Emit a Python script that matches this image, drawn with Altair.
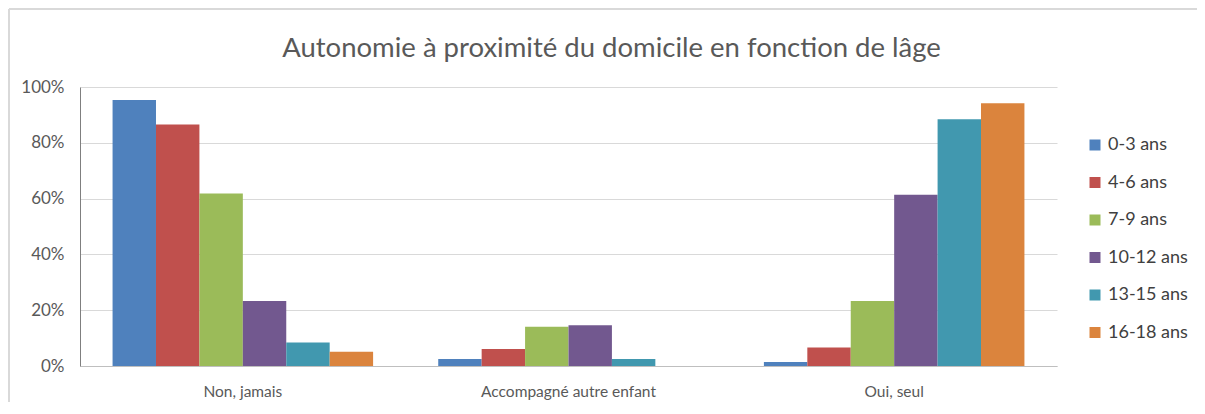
import altair as alt
import pandas as pd

categories = ["Non, jamais", "Accompagné autre enfant", "Oui, seul"]
ages = ["0-3 ans", "4-6 ans", "7-9 ans", "10-12 ans", "13-15 ans", "16-18 ans"]
colors = ["#4F81BD", "#C0504D", "#9BBB59", "#72588F", "#4198AF", "#DB843D"]

non_jamais = [0.953, 0.866, 0.618, 0.233, 0.084, 0.051]
accompagne = [0.025, 0.061, 0.141, 0.146, 0.025, 0.0]
oui_seul = [0.014, 0.066, 0.233, 0.614, 0.884, 0.942]

rows = []
for cat, vals in zip(categories, [non_jamais, accompagne, oui_seul]):
    for a, v in zip(ages, vals):
        rows.append({"cat": cat, "age": a, "val": v})
df = pd.DataFrame(rows)

FONT = "Lato"

bars = alt.Chart(df).mark_bar().encode(
    x=alt.X("cat:N", sort=categories, title=None,
            scale=alt.Scale(paddingInner=0.2, paddingOuter=0.1),
            axis=alt.Axis(labelAngle=0, labelFontSize=15.5, labelColor="#595959",
                          labelFont=FONT, ticks=False, domainColor="#BFBFBF",
                          labelPadding=18)),
    xOffset=alt.XOffset("age:N", sort=ages, scale=alt.Scale(paddingInner=0, paddingOuter=0)),
    y=alt.Y("val:Q", title=None,
            scale=alt.Scale(domain=[0, 1], nice=False),
            axis=alt.Axis(format=".0%", values=[0, 0.2, 0.4, 0.6, 0.8, 1.0],
                          labelFontSize=17, labelColor="#595959", labelFont=FONT,
                          ticks=False, domain=True, domainColor="#7F7F7F",
                          gridColor="#D9D9D9", labelPadding=16)),
    color=alt.Color("age:N", sort=ages,
                    scale=alt.Scale(domain=ages, range=colors),
                    legend=alt.Legend(title=None, labelFontSize=18, labelColor="#404040",
                                      labelFont=FONT, symbolType="square",
                                      symbolSize=121, symbolStrokeWidth=0,
                                      rowPadding=19.5, orient="none",
                                      legendX=1006, legendY=49)),
)

frame_df = pd.DataFrame({"k": [0]})
top_border = alt.Chart(frame_df).mark_rule(color="#D9D9D9", strokeWidth=2).encode(
    x=alt.value(-71), x2=alt.value(1130), y=alt.value(-78))
left_border = alt.Chart(frame_df).mark_rule(color="#D9D9D9", strokeWidth=2).encode(
    x=alt.value(-71), y=alt.value(-78), y2=alt.value(340))

chart = alt.layer(top_border, left_border, bars).properties(
    width=977,
    height=279,
    title=alt.TitleParams("Autonomie à proximité du domicile en fonction de lâge",
                          fontSize=27.5, font=FONT, fontWeight="normal",
                          color="#595959", offset=-54, dx=43),
    autosize=alt.AutoSizeParams(type="none"),
    padding={"left": 72, "top": 79, "right": 140, "bottom": 36},
).configure_view(stroke=None)

chart.save("out.html", embed_options={"renderer": "svg", "actions": False})
